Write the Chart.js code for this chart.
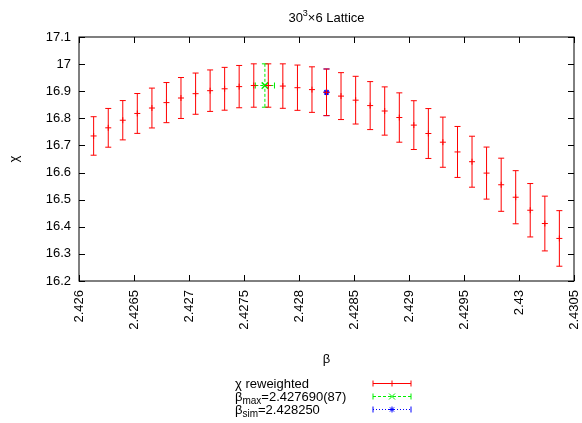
<!DOCTYPE html>
<html>
<head>
<meta charset="utf-8">
<script src="https://cdn.jsdelivr.net/npm/chart.js@4"></script>
<style>
  html, body { margin: 0; padding: 0; background: #fff; }
  #wrap { width: 582px; height: 423px; }
</style>
</head>
<body>
<div id="wrap"><canvas id="chiChart" width="582" height="423"></canvas></div>
<script>
// ---------- DATA ----------
// reweighted susceptibility, one point per beta
let beta = [
  2.426133, 2.426266, 2.426398, 2.426530, 2.426663, 2.426795, 2.426927, 2.427060,
  2.427192, 2.427324, 2.427456, 2.427589, 2.427721, 2.427853, 2.427986, 2.428118,
  2.428250, 2.428382, 2.428515, 2.428647, 2.428779, 2.428912, 2.429044, 2.429176,
  2.429308, 2.429441, 2.429573, 2.429705, 2.429838, 2.429970, 2.430102, 2.430235,
  2.430367
];
let chi = [
  16.735, 16.765, 16.793, 16.818, 16.838, 16.858, 16.875, 16.891,
  16.902, 16.909, 16.917, 16.921, 16.921, 16.919, 16.913, 16.906,
  16.896, 16.882, 16.867, 16.847, 16.827, 16.803, 16.775, 16.744,
  16.712, 16.676, 16.640, 16.598, 16.555, 16.509, 16.461, 16.412,
  16.357
];
let chiErr = [
  0.071, 0.0715, 0.0725, 0.0735, 0.0735, 0.074, 0.0755, 0.076,
  0.0765, 0.079, 0.078, 0.080, 0.080, 0.082, 0.0835, 0.084,
  0.086, 0.0865, 0.088, 0.0885, 0.089, 0.091, 0.090, 0.092,
  0.0925, 0.094, 0.094, 0.096, 0.098, 0.098, 0.0985, 0.101,
  0.1025
];

// location of the maximum
let betaMax = [2.427690];
let betaMaxErr = [0.000087];
let chiMax = [16.921];
let chiMaxErr = [0.080];

// simulated beta
let betaSim = [2.428250];
let chiSim = [16.896];
let chiSimErr = [0.086];

let xTickLabels = ["2.426", "2.4265", "2.427", "2.4275", "2.428", "2.4285", "2.429", "2.4295", "2.43", "2.4305"];
let yTickLabels = ["16.2", "16.3", "16.4", "16.5", "16.6", "16.7", "16.8", "16.9", "17", "17.1"];

const FONT = "'Liberation Sans', Arial, Helvetica, sans-serif";
const RED = "#ff0000";
const GREEN = "#00ee00";
const BLUE = "#0000ff";

function toPoints(xs, ys) {
  return xs.map((x, i) => ({ x: x, y: ys[i] }));
}

// ---------- MARKERS ----------
function drawMarker(ctx, style, x, y, r) {
  ctx.beginPath();
  if (style === "cross" || style === "star") {
    ctx.moveTo(x - r, y); ctx.lineTo(x + r, y);
    ctx.moveTo(x, y - r); ctx.lineTo(x, y + r);
  }
  if (style === "crossRot" || style === "star") {
    let d = r * Math.SQRT1_2;
    if (style === "crossRot") d = r;
    ctx.moveTo(x - d, y - d); ctx.lineTo(x + d, y + d);
    ctx.moveTo(x - d, y + d); ctx.lineTo(x + d, y - d);
  }
  ctx.stroke();
}

// ---------- ERROR BARS ----------
const CAP = 3;
const errorBars = {
  id: "errorBars",
  beforeDatasetDraw(chart, args) {
    let ds = chart.data.datasets[args.index];
    if (!ds.yErr) return;
    let xs = chart.scales.x, ys = chart.scales.y;
    let ctx = chart.ctx;
    ctx.save();
    ctx.strokeStyle = ds.borderColor;
    ctx.lineWidth = 1;
    ds.data.forEach((p, i) => {
      let px = xs.getPixelForValue(p.x);
      let py = ys.getPixelForValue(p.y);
      let top = ys.getPixelForValue(p.y + ds.yErr[i]);
      let bot = ys.getPixelForValue(p.y - ds.yErr[i]);

      ctx.setLineDash(ds.errDash || []);
      ctx.beginPath();
      ctx.moveTo(px, top); ctx.lineTo(px, bot);
      let left, right;
      if (ds.xErr) {
        left = xs.getPixelForValue(p.x - ds.xErr[i]);
        right = xs.getPixelForValue(p.x + ds.xErr[i]);
        ctx.moveTo(left, py); ctx.lineTo(right, py);
      }
      ctx.stroke();

      ctx.setLineDash([]);
      ctx.beginPath();
      ctx.moveTo(px - CAP, top); ctx.lineTo(px + CAP, top);
      ctx.moveTo(px - CAP, bot); ctx.lineTo(px + CAP, bot);
      if (ds.xErr) {
        ctx.moveTo(left, py - CAP); ctx.lineTo(left, py + CAP);
        ctx.moveTo(right, py - CAP); ctx.lineTo(right, py + CAP);
      }
      ctx.stroke();
    });
    ctx.restore();
  }
};

// ---------- FRAME, TITLE, KEY ----------
const decorations = {
  id: "decorations",
  afterDraw(chart) {
    let ctx = chart.ctx;
    let a = chart.chartArea;
    let xs = chart.scales.x, ys = chart.scales.y;
    ctx.save();

    // border with inward ticks on all four sides
    ctx.strokeStyle = "#000";
    ctx.lineWidth = 1;
    ctx.setLineDash([]);
    ctx.strokeRect(a.left, a.top, a.right - a.left, a.bottom - a.top);
    ctx.beginPath();
    xs.ticks.forEach(t => {
      let px = Math.round(xs.getPixelForValue(t.value)) + 0.5;
      ctx.moveTo(px, a.bottom); ctx.lineTo(px, a.bottom - 6);
      ctx.moveTo(px, a.top); ctx.lineTo(px, a.top + 6);
    });
    ys.ticks.forEach(t => {
      let py = Math.round(ys.getPixelForValue(t.value)) + 0.5;
      ctx.moveTo(a.left, py); ctx.lineTo(a.left + 6, py);
      ctx.moveTo(a.right, py); ctx.lineTo(a.right - 6, py);
    });
    ctx.stroke();

    // title: 30^3 x 6 Lattice, with a raised small 3
    ctx.fillStyle = "#000";
    ctx.textAlign = "left";
    ctx.textBaseline = "alphabetic";
    let parts = [
      { t: "30", size: 13, dy: 0 },
      { t: "3", size: 9, dy: -6 },
      { t: "\u00d76 Lattice", size: 13, dy: 0 }
    ];
    let total = 0;
    parts.forEach(p => { ctx.font = p.size + "px " + FONT; total += ctx.measureText(p.t).width; });
    let tx = (a.left + a.right) / 2 - total / 2;
    parts.forEach(p => {
      ctx.font = p.size + "px " + FONT;
      ctx.fillText(p.t, tx, 22 + p.dy);
      tx += ctx.measureText(p.t).width;
    });

    // key
    let keyX = 235;
    let rows = [
      { main: "\u03c7 reweighted", sub: "", rest: "", base: 387.5, lineY: 383.5, color: RED, dash: [], marker: "cross", r: 3 },
      { main: "\u03b2", sub: "max", rest: "=2.427690(87)", base: 400.5, lineY: 396.5, color: GREEN, dash: [3, 2], marker: "crossRot", r: 3 },
      { main: "\u03b2", sub: "sim", rest: "=2.428250", base: 413.5, lineY: 409.5, color: BLUE, dash: [1, 2], marker: "star", r: 3 }
    ];
    rows.forEach(row => {
      let x = keyX;
      ctx.fillStyle = "#000";
      ctx.font = "13px " + FONT;
      ctx.fillText(row.main, x, row.base);
      x += ctx.measureText(row.main).width;
      if (row.sub) {
        ctx.font = "10px " + FONT;
        ctx.fillText(row.sub, x, row.base + 3);
        x += ctx.measureText(row.sub).width;
        ctx.font = "13px " + FONT;
        ctx.fillText(row.rest, x, row.base);
      }

      let x0 = 373, x1 = 411, mid = (x0 + x1) / 2;
      ctx.strokeStyle = row.color;
      ctx.lineWidth = 1;
      ctx.setLineDash(row.dash);
      ctx.beginPath();
      ctx.moveTo(x0, row.lineY); ctx.lineTo(x1, row.lineY);
      ctx.stroke();
      ctx.setLineDash([]);
      ctx.beginPath();
      ctx.moveTo(x0, row.lineY - CAP); ctx.lineTo(x0, row.lineY + CAP);
      ctx.moveTo(x1, row.lineY - CAP); ctx.lineTo(x1, row.lineY + CAP);
      ctx.stroke();
      drawMarker(ctx, row.marker, mid, row.lineY, row.r);
    });

    ctx.restore();
  }
};

// ---------- CHART ----------
new Chart(document.getElementById("chiChart"), {
  type: "scatter",
  data: {
    datasets: [
      {
        label: "\u03c7 reweighted",
        data: toPoints(beta, chi),
        yErr: chiErr,
        borderColor: RED,
        backgroundColor: RED,
        pointStyle: "cross",
        pointRadius: 3,
        pointBorderWidth: 1
      },
      {
        label: "\u03b2max",
        data: toPoints(betaMax, chiMax),
        yErr: chiMaxErr,
        xErr: betaMaxErr,
        errDash: [3, 2],
        borderColor: GREEN,
        backgroundColor: GREEN,
        pointStyle: "crossRot",
        pointRadius: 4.5,
        pointBorderWidth: 1.5
      },
      {
        label: "\u03b2sim",
        data: toPoints(betaSim, chiSim),
        yErr: chiSimErr,
        errDash: [1, 2],
        borderColor: BLUE,
        backgroundColor: BLUE,
        pointStyle: "star",
        pointRadius: 3,
        pointBorderWidth: 1.5
      }
    ]
  },
  options: {
    responsive: false,
    maintainAspectRatio: false,
    animation: false,
    events: [],
    layout: { padding: { top: 37, right: 8, left: 0, bottom: 0 } },
    plugins: {
      legend: { display: false },
      title: { display: false },
      tooltip: { enabled: false }
    },
    scales: {
      x: {
        type: "linear",
        min: 2.426,
        max: 2.4305,
        grid: { display: false, drawTicks: false },
        border: { display: false },
        afterBuildTicks: s => { s.ticks = xTickLabels.map(v => ({ value: parseFloat(v) })); },
        afterFit: s => { s.height = 142; s.paddingLeft = 0; s.paddingRight = 0; },
        ticks: {
          autoSkip: false,
          minRotation: 90,
          maxRotation: 90,
          padding: 9,
          color: "#000",
          font: { family: FONT, size: 13 },
          callback: (v, i) => xTickLabels[i]
        },
        title: {
          display: true,
          text: "\u03b2",
          color: "#000",
          font: { family: FONT, size: 13 },
          padding: { top: 0, bottom: 56 }
        }
      },
      y: {
        type: "linear",
        min: 16.2,
        max: 17.1,
        grid: { display: false, drawTicks: false },
        border: { display: false },
        afterBuildTicks: s => { s.ticks = yTickLabels.map(v => ({ value: parseFloat(v) })); },
        afterFit: s => { s.width = 79; s.paddingTop = 0; s.paddingBottom = 0; },
        ticks: {
          padding: 8,
          color: "#000",
          font: { family: FONT, size: 13 },
          callback: (v, i) => yTickLabels[i]
        },
        title: {
          display: true,
          text: "\u03c7",
          color: "#000",
          font: { family: FONT, size: 13 },
          padding: { top: 7, bottom: 0 }
        }
      }
    }
  },
  plugins: [errorBars, decorations]
});
</script>
</body>
</html>
